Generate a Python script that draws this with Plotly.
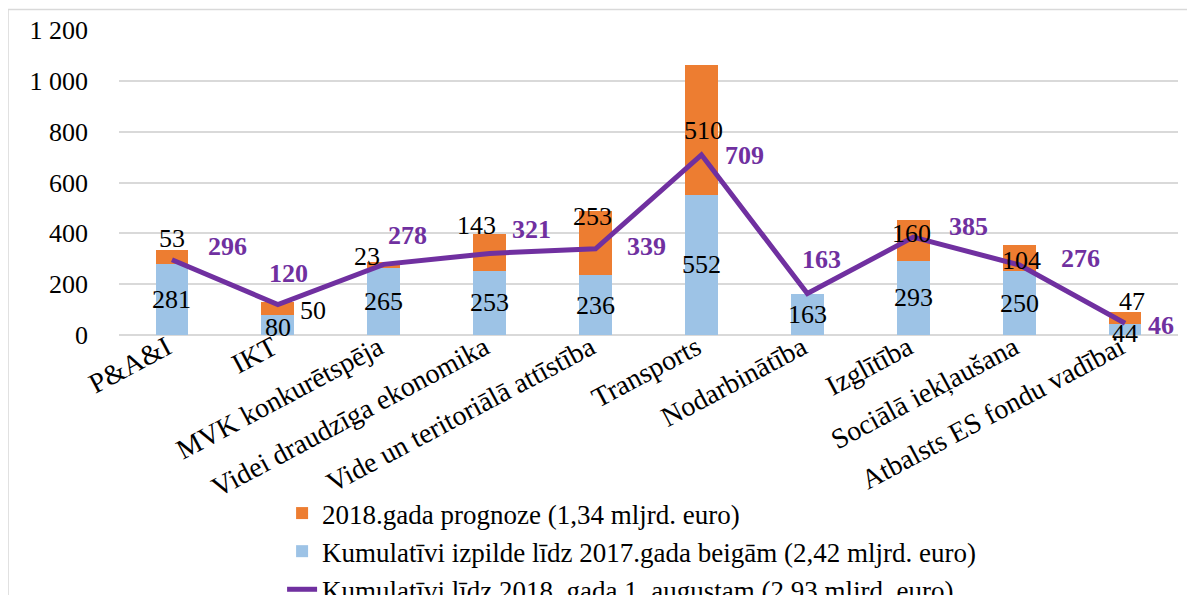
import plotly.graph_objects as go

categories = ["P&A&I", "IKT", "MVK konkurētspēja", "Videi draudzīga ekonomika",
              "Vide un teritoriālā attīstība", "Transports", "Nodarbinātība",
              "Izglītība", "Sociālā iekļaušana", "Atbalsts ES fondu vadībai"]
cumulative_2017 = [281, 80, 265, 253, 236, 552, 163, 293, 250, 44]
forecast_2018 = [53, 50, 23, 143, 253, 510, None, 160, 104, 47]
cumulative_aug_2018 = [296, 120, 278, 321, 339, 709, 163, 385, 276, 46]

series_names = ["2018.gada prognoze (1,34 mljrd. euro)",
                "Kumulatīvi izpilde līdz 2017.gada beigām (2,42 mljrd. euro)",
                "Kumulatīvi līdz 2018. gada 1. augustam (2,93 mljrd. euro)"]
y_ticks = [0, 200, 400, 600, 800, 1000, 1200]

# label pixel offsets (dx, dy up) to mimic the reference placement
orange_off = [(0, 18), (35, -2), (-17, 8), (-13, 27), (-3, 26), (2, -1), (0, 0), (-2, 7), (2, -2), (7, 16)]
blue_off = [(0, 0), (0, -3), (0, 0), (0, 0), (0, 0), (0, 0), (0, 0), (0, 0), (0, 0), (0, -4)]
line_off = [(56, 13), (11, 31), (24, 29), (42, 24), (51, 2), (43, -1), (14, 34), (55, 11), (61, 6), (36, -2)]

FONT = "Liberation Serif, Times New Roman, serif"
ORANGE = "#ED7D31"
BLUE = "#9DC3E6"
PURPLE = "#7030A0"

fig = go.Figure()
fig.add_trace(go.Bar(x=categories, y=cumulative_2017, name=series_names[1],
                     marker=dict(color=BLUE, line=dict(width=0)), legendrank=2))
fig.add_trace(go.Bar(x=categories, y=[v if v is not None else 0 for v in forecast_2018],
                     name=series_names[0],
                     marker=dict(color=ORANGE, line=dict(width=0)), legendrank=1))
fig.add_trace(go.Scatter(x=categories, y=cumulative_aug_2018, name=series_names[2],
                         mode="lines", line=dict(color=PURPLE, width=5), legendrank=3))

ann = []
for i, c in enumerate(categories):
    b = cumulative_2017[i]
    ann.append(dict(x=c, y=b / 2, text=str(b), showarrow=False,
                    xshift=blue_off[i][0], yshift=blue_off[i][1],
                    font=dict(family=FONT, size=26, color="black")))
    o = forecast_2018[i]
    if o:
        ann.append(dict(x=c, y=b + o / 2, text=str(o), showarrow=False,
                        xshift=orange_off[i][0], yshift=orange_off[i][1],
                        font=dict(family=FONT, size=26, color="black")))
    v = cumulative_aug_2018[i]
    ann.append(dict(x=c, y=v, text="<b>%d</b>" % v, showarrow=False,
                    xshift=line_off[i][0], yshift=line_off[i][1],
                    font=dict(family=FONT, size=26, color=PURPLE)))

fig.update_layout(
    width=1187, height=587,
    barmode="stack", bargap=0.69,
    plot_bgcolor="white", paper_bgcolor="white",
    separators=", ",
    font=dict(family=FONT, size=26, color="black"),
    margin=dict(l=111, r=17, t=22, b=260, autoexpand=False),
    annotations=ann,
    showlegend=True,
    legend=dict(orientation="v", traceorder="normal",
                x=0.154, xanchor="left", y=-0.505, yanchor="top",
                font=dict(family=FONT, size=27, color="black"),
                bgcolor="rgba(0,0,0,0)"),
    shapes=[dict(type="rect", xref="paper", yref="paper",
                 x0=-0.1048, x1=1.03, y0=-0.9, y1=1.0672,
                 line=dict(color="#D9D9D9", width=1.5), layer="below")],
)
fig.update_yaxes(range=[0, 1200], tickvals=y_ticks, tickformat=",d",
                 showgrid=True, gridcolor="#D9D9D9", gridwidth=1.5,
                 zeroline=True, zerolinecolor="#D9D9D9", zerolinewidth=1.5,
                 showline=False, ticks="", ticklabelstandoff=30,
                 tickfont=dict(family=FONT, size=26, color="black"))
fig.update_xaxes(tickangle=-28, showgrid=False, showline=False, ticks="",
                 ticklabelstandoff=-10, ticklabelshift=-5,
                 tickfont=dict(family=FONT, size=28, color="black"))

fig.write_html("out.html")
